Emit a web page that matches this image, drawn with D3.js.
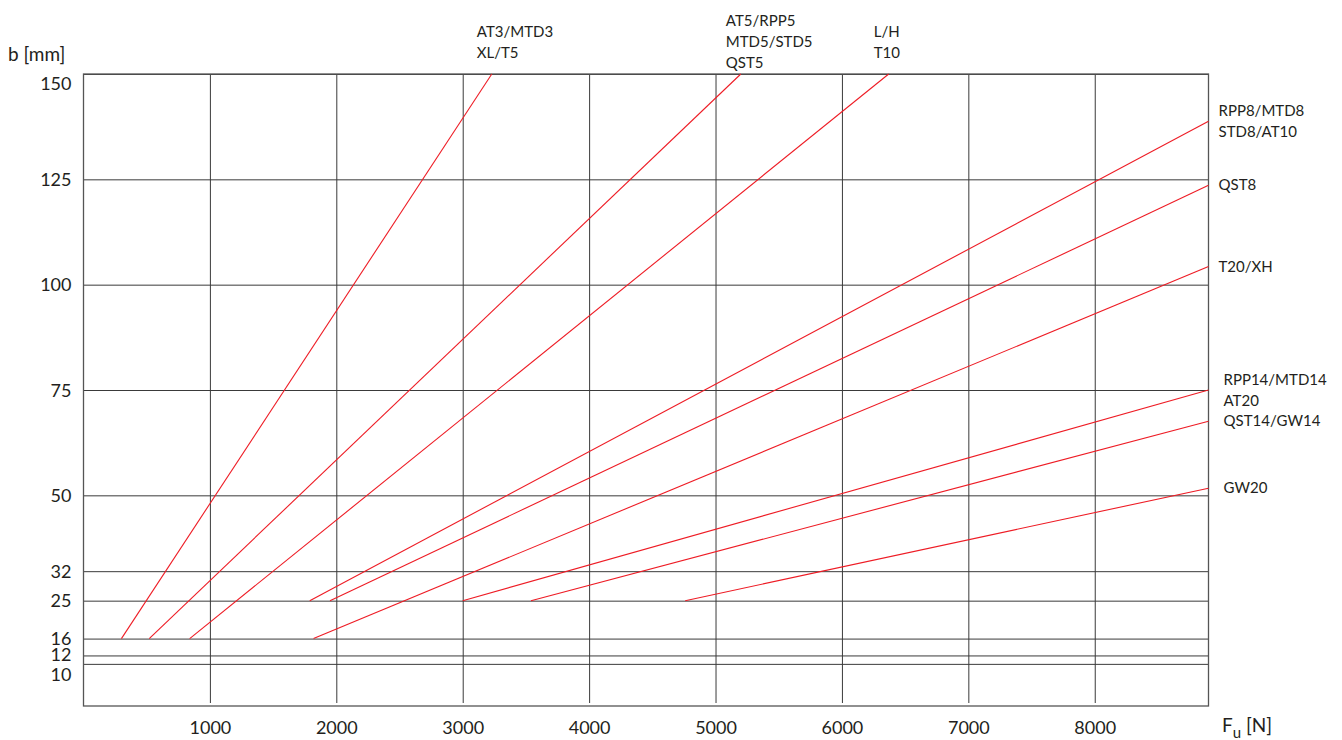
<!DOCTYPE html>
<html>
<head>
<meta charset="utf-8">
<script src="https://cdn.jsdelivr.net/npm/d3@7"></script>
<style>
  body { margin: 0; background: #fff; }
  svg { display: block; }
  text { font-family: Lato, "Noto Sans", sans-serif; fill: #231f20; }
</style>
</head>
<body>
<svg id="chart" width="1342" height="740"></svg>
<script>
// belt types and the straight line each one draws (force Fu [N] -> belt width b [mm])
var beltNames = [
    ["AT3/MTD3", "XL/T5"],
    ["AT5/RPP5", "MTD5/STD5", "QST5"],
    ["L/H", "T10"],
    ["RPP8/MTD8", "STD8/AT10"],
    ["QST8"],
    ["T20/XH"],
    ["RPP14/MTD14", "AT20"],
    ["QST14/GW14"],
    ["GW20"]
];
var forceStart = [300, 520, 840, 1790, 1950, 1820, 3000, 3540, 4760];
var widthStart = [16, 16, 16, 25, 25, 16, 25, 25, 25];
var forceEnd   = [3230, 5200, 6370, 8900, 8900, 8900, 8900, 8900, 8900];
var widthEnd   = [150, 150, 150, 138.8, 123.6, 104.3, 75, 67.6, 51.7];

var xTicks = [1000, 2000, 3000, 4000, 5000, 6000, 7000, 8000];
var yTicks = [150, 125, 100, 75, 50, 32, 25, 16, 12, 10];

var svg = d3.select("#chart");
var plot = { left: 83.5, right: 1208.5, top: 74, bottom: 706 };

var x = d3.scaleLinear().domain([0, 8900]).range([plot.left, plot.right]);
var y = d3.scaleLinear().domain([0, 150]).range([plot.bottom, plot.top]);

var grid = "#3a3a3a";

// horizontal grid lines + y labels
var yAxis = d3.axisLeft(y).tickValues(yTicks).tickSize(-(plot.right - plot.left)).tickFormat(d3.format("d"));
var gy = svg.append("g").attr("transform", "translate(" + plot.left + ",0)").call(yAxis);
gy.select(".domain").remove();
gy.selectAll(".tick line").attr("stroke", grid).attr("stroke-width", 1);
gy.selectAll(".tick text")
    .attr("x", -12)
    .attr("dy", function (d) {
        if (d == 150) return "0.85em";
        if (d == 10) return "0.95em";
        if (d == 12) return "0.3em";
        return "0.35em";
    })
    .style("font-size", "18px")
    .style("font-family", "Lato, 'Noto Sans', sans-serif")
    .attr("fill", "#231f20");

// vertical grid lines + x labels
var xAxis = d3.axisBottom(x).tickValues(xTicks).tickSize(-(plot.bottom - plot.top - 3)).tickFormat(d3.format("d"));
var gx = svg.append("g").attr("transform", "translate(0," + (plot.bottom - 3) + ")").call(xAxis);
gx.select(".domain").remove();
gx.selectAll(".tick line").attr("stroke", grid).attr("stroke-width", 1);
gx.selectAll(".tick text")
    .attr("y", 31)
    .attr("dy", 0)
    .style("font-size", "18px")
    .style("font-family", "Lato, 'Noto Sans', sans-serif")
    .attr("fill", "#231f20");

// plot frame
svg.append("rect")
    .attr("x", plot.left).attr("y", plot.top)
    .attr("width", plot.right - plot.left).attr("height", plot.bottom - plot.top)
    .attr("fill", "none").attr("stroke", "#555").attr("stroke-width", 1.3);

// belt lines
var belts = beltNames.map(function (n, i) {
    return { names: n, x0: forceStart[i], y0: widthStart[i], x1: forceEnd[i], y1: widthEnd[i] };
});

svg.append("g").selectAll("line")
    .data(belts)
    .enter().append("line")
    .attr("x1", function (d) { return x(d.x0); })
    .attr("y1", function (d) { return y(d.y0); })
    .attr("x2", function (d) { return x(d.x1); })
    .attr("y2", function (d) { return y(d.y1); })
    .attr("stroke", "#ee1c25")
    .attr("stroke-width", 1.1);

// belt labels: above the frame if the line runs out at the top, otherwise right of it
var lab = svg.append("g").selectAll("text")
    .data(belts)
    .enter().append("text")
    .style("font-size", "15px");

lab.each(function (d) {
    var t = d3.select(this);
    var n = d.names.length;
    var onTop = d.y1 >= 150;
    var tx = onTop ? x(d.x1) - 15 : plot.right + (d.y1 < 80 ? 15 : 10);
    var cy = onTop ? 47 : y(d.y1) + 5;
    d.names.forEach(function (s, i) {
        t.append("tspan")
            .attr("x", tx)
            .attr("y", cy - (n - 1) * 10.5 + i * 21)
            .text(s);
    });
});

// axis titles
svg.append("text").attr("x", 8).attr("y", 61).style("font-size", "19px").text("b [mm]");
var ft = svg.append("text").attr("x", 1222).attr("y", 732).style("font-size", "19px");
ft.append("tspan").text("F");
ft.append("tspan").attr("dy", 6).style("font-size", "15px").text("u");
ft.append("tspan").attr("dy", -6).text(" [N]");
</script>
</body>
</html>
